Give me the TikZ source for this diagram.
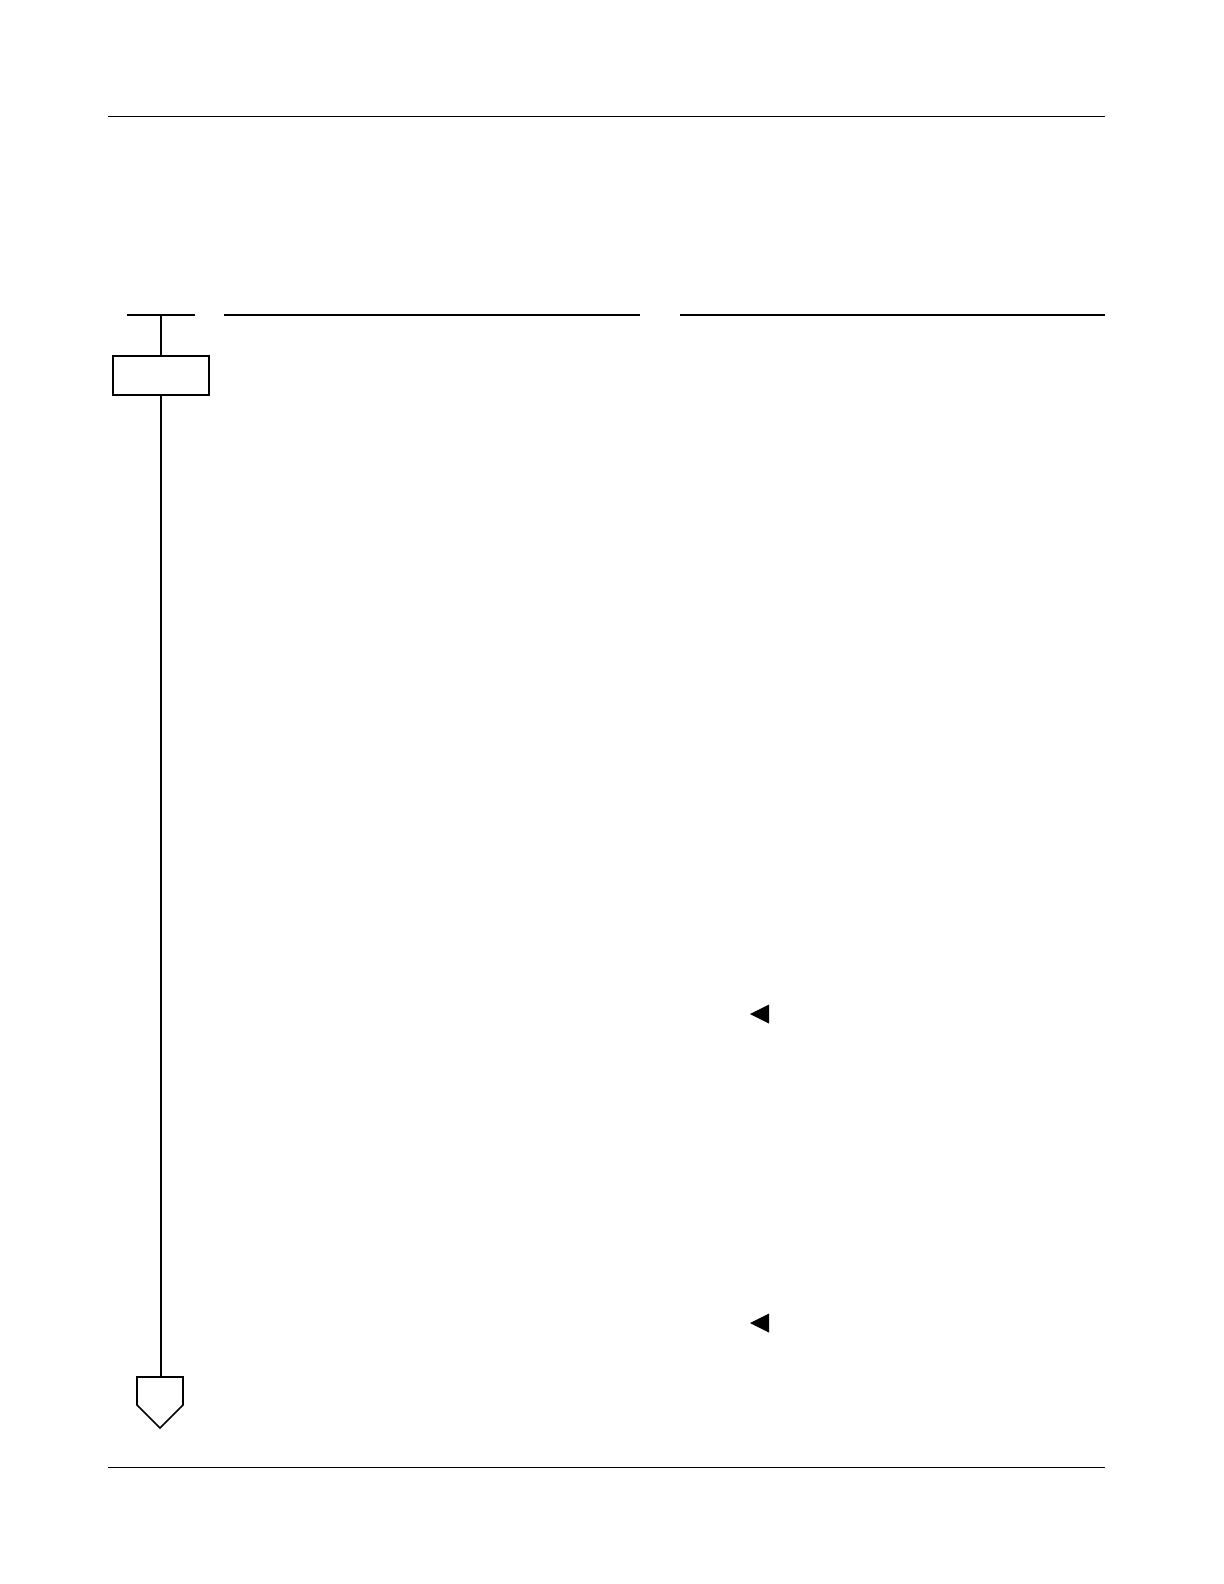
\documentclass[tikz,border=0pt]{standalone}
\usetikzlibrary{positioning}
\tikzset{
  regla/.style={black,line width=0.5pt},
  colregla/.style={black,line width=1pt},
  caja/.style={draw,black,line width=1pt,rectangle,minimum width=48bp,minimum height=19.5bp,inner sep=0pt},
  marca/.style={fill=black,draw=none}
}
\begin{document}
\begin{tikzpicture}[x=0.5bp,y=-0.5bp,cap=butt]
        \useasboundingbox (0,0) rectangle (1224,1584);
        
        % reglas de pagina
        \draw[regla] (108,116) -- (1105,116);
        \draw[regla] (108,1467) -- (1105,1467);
        
        % reglas de columnas
        \draw[colregla] (127,315) -- (195,315);
        \draw[colregla] (224,315) -- (640,315);
        \draw[colregla] (680,315) -- (1105,315);
        
        \coordinate (arriba) at (161,315);
        \node[caja] (paso) at (161,375.5) {};
        
        % fin del flujo
        \coordinate (fin) at (160,1377);
        \draw[black,line width=0.8pt,fill=white] (137,1377) -- (183,1377) -- (183,1405) -- (160,1428) -- (137,1405) -- cycle;
        
        \draw[black,line width=1pt] (arriba) -- (paso.north);
        \draw[black,line width=1pt] (paso.south) -- (paso.south |- fin);
        
        % marcas
        \foreach \y in {1014,1323}{
            \fill[marca] (750,\y) -- (769,\y-9.5) -- (769,\y+9.5) -- cycle;
        }
        
	\end{tikzpicture}
\end{document}
